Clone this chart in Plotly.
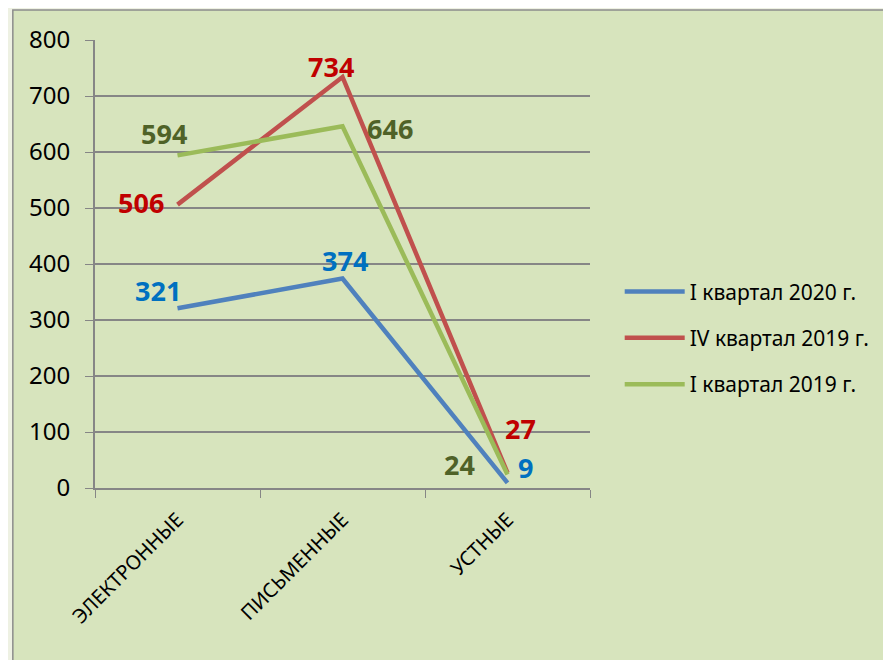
import plotly.graph_objects as go

categories = ["ЭЛЕКТРОННЫЕ", "ПИСЬМЕННЫЕ", "УСТНЫЕ"]
series_names = ["I квартал 2020 г.", "IV квартал 2019 г.", "I квартал 2019 г."]
q1_2020 = [321, 374, 9]
q4_2019 = [506, 734, 27]
q1_2019 = [594, 646, 24]
y_ticks = [0, 100, 200, 300, 400, 500, 600, 700, 800]

line_colors = ["#4F81BD", "#C0504D", "#9BBB59"]
label_colors = ["#0070C0", "#C00000", "#4F6228"]
# pixel offsets of the data labels from their points
label_shifts = [
    [(-20, 18), (2, 18), (18, 15)],
    [(-37, 2), (-12, 10), (13, 44)],
    [(-14, 22), (47, -2), (-48, 10)],
]

fig = go.Figure()
for i, (name, vals, lc, tc, shifts) in enumerate(zip(
        series_names, [q1_2020, q4_2019, q1_2019],
        line_colors, label_colors, label_shifts)):
    fig.add_trace(go.Scatter(
        x=categories, y=vals, name=name, legendgroup=str(i),
        mode="lines",
        line=dict(color=lc, width=4.5),
    ))
    for cat, v, (dx, dy) in zip(categories, vals, shifts):
        fig.add_annotation(
            x=cat, y=v, text=str(v), showarrow=False,
            xshift=dx, yshift=dy, borderpad=0,
            font=dict(size=27, color=tc, family="Noto Sans", weight="bold"),
        )

# outer chart-area box
fig.add_shape(type="rect", xref="paper", yref="paper",
              x0=-0.166, x1=1.8, y0=-0.6, y1=1.067,
              fillcolor="#D7E4BD", line=dict(color="#8C8C8C", width=1.5),
              layer="below")

# the page adds an 8px body margin, so the margins are shifted by 8px
fig.update_layout(
    width=891, height=660,
    paper_bgcolor="#EEF1E3",
    plot_bgcolor="rgba(0,0,0,0)",
    margin=dict(l=87, r=309, t=32, b=180),
    font=dict(family="Noto Sans", color="#000000"),
    showlegend=True,
    legend=dict(x=1.06, y=0.335, xanchor="left", yanchor="middle",
                font=dict(size=21), tracegroupgap=16, itemwidth=60,
                bgcolor="rgba(0,0,0,0)"),
)
fig.update_xaxes(
    range=[-0.5, 2.5], showgrid=False, showline=True, automargin=False,
    linecolor="#868686", linewidth=2,
    ticks="outside", tickson="boundaries", ticklen=8, tickcolor="#868686",
    tickangle=-45, tickfont=dict(size=20), ticklabelstandoff=10,
)
fig.update_yaxes(
    range=[0, 800], tickvals=y_ticks, showgrid=True, automargin=False,
    gridcolor="#868686", gridwidth=2, showline=True,
    linecolor="#868686", linewidth=2,
    ticks="outside", ticklen=8, tickcolor="#868686",
    tickfont=dict(size=24), zeroline=False, ticklabelstandoff=10,
)

fig.write_html("out.html")
